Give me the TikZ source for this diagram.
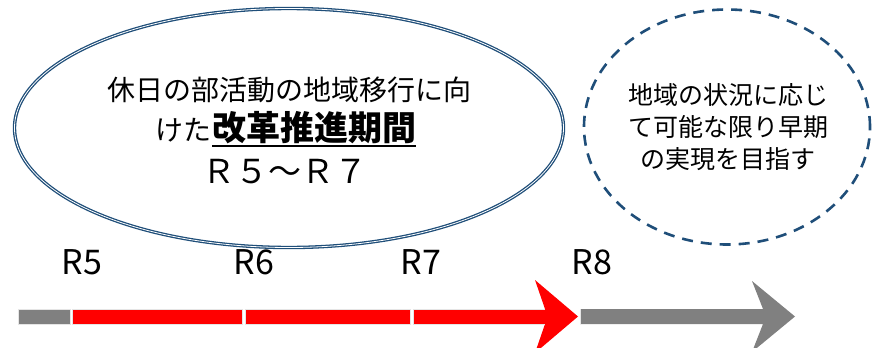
\documentclass[tikz,border=0pt]{standalone}
\usepackage{fontspec}
\setmainfont{Noto Sans CJK JP}
\usetikzlibrary{shapes.geometric}
\definecolor{navy}{HTML}{1F4E79}
\definecolor{arrred}{HTML}{FF0000}
\definecolor{arrgrey}{HTML}{808080}
\tikzset{
  txt/.style={inner sep=0pt, text=black},
  seg/.style={draw=white!80!gray, line width=0.5pt},
  yr/.style={txt, font=\fontsize{34}{34}\selectfont},
}
\begin{document}
\begin{tikzpicture}[x=1pt,y=-1pt]
\useasboundingbox (0,0) rectangle (876,348);
\clip (0,0) rectangle (876,348);
% left ellipse (double line)
\node (e1) [ellipse, draw=navy, double=white, line width=1.3pt, double distance=0.8pt,
  minimum width=549pt, minimum height=239pt, inner sep=0pt] at (289,128) {};
% right dashed ellipse
\node (e2) [ellipse, draw=navy, line width=2.6pt, dash pattern=on 11pt off 8pt,
  minimum width=286pt, minimum height=235pt, inner sep=0pt] at (727,127) {};
% ellipse 1 text
\node (t1) [txt, font=\fontsize{28}{28}\selectfont] at (289,90) {休日の部活動の地域移行に向};
\node (t2a) [txt, anchor=base east, font=\fontsize{28}{28}\selectfont] at (212,140) {けた};
\node (t2b) [txt, anchor=base west, font=\fontsize{34}{34}\selectfont\bfseries] at (212,140) {改革推進期間};
\draw[line width=2.2pt, black] ([yshift=-6pt]t2b.base west) -- ([yshift=-6pt]t2b.base east);
\node (t3) [txt, font=\fontsize{33}{33}\selectfont] at (285,172) {Ｒ５～Ｒ７};
% ellipse 2 text
\node (u1) [txt, font=\fontsize{25}{25}\selectfont] at (728,95) {地域の状況に応じ};
\node (u2) [txt, font=\fontsize{25}{25}\selectfont] at (728,127) {て可能な限り早期};
\node (u3) [txt, font=\fontsize{25}{25}\selectfont] at (728,159) {の実現を目指す};
% year labels
\node (r5) [yr] at (82,262) {R5};
\node (r6) [yr] at (254,262) {R6};
\node (r7) [yr] at (421,262) {R7};
\node (r8) [yr] at (592,262) {R8};
% timeline
\fill[arrgrey] (18,309) rectangle (70,324);
\draw[seg] (18,309) rectangle (70,324);
\fill[arrred] (72,309) rectangle (242,324);
\draw[seg] (72,309) rectangle (242,324);
\fill[arrred] (245,309) rectangle (410,324);
\draw[seg] (245,309) rectangle (410,324);
\fill[arrred] (413,309) -- (545,309) -- (535,280) -- (578,316.5) -- (535,353) -- (545,324) -- (413,324) -- cycle;
\draw[seg] (413,309) -- (545,309);
\draw[seg] (413,324) -- (545,324);
\draw[seg] (413,309) -- (413,324);
\fill[arrgrey] (580,309) -- (763,309) -- (752,281) -- (795,316.5) -- (752,352) -- (763,324) -- (580,324) -- cycle;
\draw[seg] (580,309) -- (580,324);
\end{tikzpicture}
\end{document}
